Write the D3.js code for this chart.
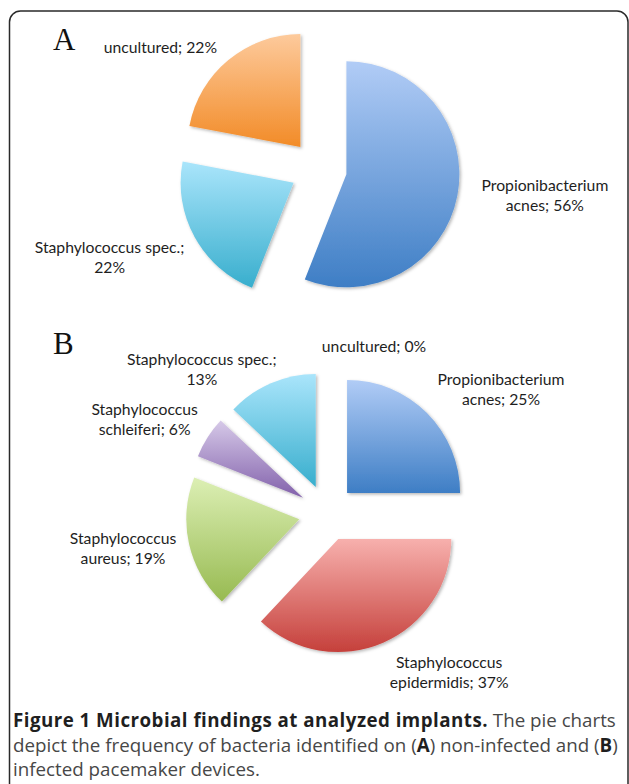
<!DOCTYPE html>
<html>
<head>
<meta charset="utf-8">
<script src="https://cdn.jsdelivr.net/npm/d3@7"></script>
<style>
  html, body { margin: 0; padding: 0; background: #fff; }
  svg { display: block; }
</style>
</head>
<body>
<svg id="fig" width="629" height="784"></svg>
<script>
// Panel A: bacteria on non-infected devices (share in %)
const categoriesA = ["Propionibacterium acnes", "Staphylococcus spec.", "uncultured"];
const valuesA = [56, 22, 22];
// number of words on a label's first line (0 = keep on one line)
const wrapA = [1, 2, 0];

// Panel B: bacteria on infected devices (share in %)
const categoriesB = ["Propionibacterium acnes", "Staphylococcus epidermidis", "Staphylococcus aureus",
                     "Staphylococcus schleiferi", "Staphylococcus spec.", "uncultured"];
const valuesB = [25, 37, 19, 6, 13, 0];
const wrapB = [1, 1, 1, 1, 2, 0];

// Caption lines; each run is [text, bold]
const captionLines = [
  [["Figure 1 Microbial findings at analyzed implants.", true], [" The pie charts", false]],
  [["depict the frequency of bacteria identified on (", false], ["A", true], [") non-infected and (", false], ["B", true], [")", false]],
  [["infected pacemaker devices.", false]]
];

// ---- styling ----
const sliceGradient = {
  "Propionibacterium acnes":    ["#b1ccf6", "#3e7ec5"],
  "Staphylococcus spec.":       ["#aae5fb", "#38aecd"],
  "uncultured":                 ["#fdca9c", "#f28b27"],
  "Staphylococcus epidermidis": ["#f7b0ad", "#c5403b"],
  "Staphylococcus aureus":      ["#dcefb4", "#97ba51"],
  "Staphylococcus schleiferi":  ["#d6c9e8", "#8261ab"]
};

const W = 629, H = 784;
const R = 113, EXPLODE = 28.4;

const panels = [
  { letter: "A", cats: categoriesA, vals: valuesA, wrap: wrapA,
    cx: 318.5, cy: 169, letterX: 53, letterY: 50,
    labelShift: [[87.5, 0], [-85, 20], [-68, -13]] },
  { letter: "B", cats: categoriesB, vals: valuesB, wrap: wrapB,
    cx: 327, cy: 513, letterX: 53, letterY: 354,
    labelShift: [[74, -24], [66, 30], [-66, 4], [-63, -18], [-69, -14], [47, -25]] }
];

const svg = d3.select("#fig");
const defs = svg.append("defs");

// soft drop shadow under the slices
const shadow = defs.append("filter").attr("id", "sliceShadow")
  .attr("x", "-20%").attr("y", "-20%").attr("width", "140%").attr("height", "140%");
shadow.append("feDropShadow")
  .attr("dx", 1.5).attr("dy", 1.5).attr("stdDeviation", 1.6)
  .attr("flood-color", "#000").attr("flood-opacity", 0.28);

// vertical gradient per category, spanning each slice's own box
const gradId = {};
Object.entries(sliceGradient).forEach(([name, [top, bottom]], i) => {
  const id = "grad" + i;
  gradId[name] = id;
  const g = defs.append("linearGradient").attr("id", id)
    .attr("x1", 0).attr("y1", 0).attr("x2", 0).attr("y2", 1);
  g.append("stop").attr("offset", "0%").attr("stop-color", top);
  g.append("stop").attr("offset", "100%").attr("stop-color", bottom);
});

// frame with rounded upper corners, open at the bottom
const fx0 = 9.5, fx1 = 628, fy0 = 11, fr = 11;
svg.append("path")
  .attr("d", `M${fx0},${H + 2} L${fx0},${fy0 + fr} A${fr},${fr} 0 0 1 ${fx0 + fr},${fy0}
              L${fx1 - fr},${fy0} A${fr},${fr} 0 0 1 ${fx1},${fy0 + fr} L${fx1},${H + 2}`)
  .attr("fill", "none").attr("stroke", "#2a2a2a").attr("stroke-width", 1.5);

// label font sized so the longest word has its drawn width
const LABEL_FONT = "Lato, 'Open Sans', sans-serif";
function fitSize(text, family, weight, target) {
  const t = svg.append("text").attr("font-family", family).attr("font-weight", weight)
    .attr("font-size", 20).text(text);
  const w = t.node().getComputedTextLength();
  t.remove();
  return 20 * target / w;
}
const labelSize = fitSize("Propionibacterium", LABEL_FONT, 400, 127);
const LINE = 20;

const pie = d3.pie().sort(null).value(d => d.value);
const arc = d3.arc().innerRadius(0).outerRadius(R);

panels.forEach(p => {
  const data = p.cats.map((c, i) => ({ name: c, value: p.vals[i], wrap: p.wrap[i], shift: p.labelShift[i] }));
  const arcs = pie(data);
  const g = svg.append("g");

  arcs.forEach(a => {
    const mid = (a.startAngle + a.endAngle) / 2;
    const ux = Math.sin(mid), uy = -Math.cos(mid);
    const sx = p.cx + EXPLODE * ux, sy = p.cy + EXPLODE * uy;
    a.edgeX = sx + R * ux;
    a.edgeY = sy + R * uy;
    if (a.value > 0) {
      g.append("path")
        .attr("transform", `translate(${sx},${sy})`)
        .attr("d", arc(a))
        .attr("fill", `url(#${gradId[a.data.name]})`)
        .attr("filter", "url(#sliceShadow)");
    }
  });

  // data labels: "<name>; <value>%"
  arcs.forEach(a => {
    const words = `${a.data.name}; ${a.data.value}%`.split(" ");
    const lines = a.data.wrap > 0
      ? [words.slice(0, a.data.wrap).join(" "), words.slice(a.data.wrap).join(" ")]
      : [words.join(" ")];
    const cx = a.edgeX + a.data.shift[0];
    const cy = a.edgeY + a.data.shift[1];
    const t = g.append("text")
      .attr("font-family", LABEL_FONT).attr("font-size", labelSize)
      .attr("fill", "#1e1e1e").attr("text-anchor", "middle");
    lines.forEach((ln, k) => {
      const lineCenter = cy + (k - (lines.length - 1) / 2) * LINE;
      t.append("tspan").attr("x", cx).attr("y", lineCenter + labelSize * 0.36).text(ln);
    });
  });

  svg.append("text")
    .attr("x", p.letterX).attr("y", p.letterY)
    .attr("font-family", "'Liberation Serif', 'Times New Roman', serif")
    .attr("font-size", 31).attr("fill", "#111")
    .text(p.letter);
});

// caption, sized so the second line spans the text block
const CAP_FONT = "'Open Sans', 'Noto Sans', sans-serif";
const capX = 13;
const probe = svg.append("text").attr("font-family", CAP_FONT).attr("font-size", 20);
captionLines[1].forEach(([s, b]) => probe.append("tspan").attr("font-weight", b ? 700 : 400).text(s));
const capSize = 20 * 605 / probe.node().getComputedTextLength();
probe.remove();

// the bold title run is set slightly looser
const titleRun = captionLines[0][0][0];
const tProbe = svg.append("text").attr("font-family", CAP_FONT).attr("font-size", capSize)
  .attr("font-weight", 700).text(titleRun);
const titleSpacing = (475 - tProbe.node().getComputedTextLength()) / titleRun.length;
tProbe.remove();

const capBase = [727, 752, 776];
captionLines.forEach((runs, i) => {
  const t = svg.append("text").attr("x", capX).attr("y", capBase[i])
    .attr("font-family", CAP_FONT).attr("font-size", capSize);
  runs.forEach(([s, b], j) => {
    const ts = t.append("tspan")
      .attr("font-weight", b ? 700 : 400)
      .attr("fill", b ? "#1f1f1f" : "#474747")
      .text(s);
    if (i === 0 && j === 0) ts.attr("letter-spacing", titleSpacing);
  });
});
</script>
</body>
</html>
